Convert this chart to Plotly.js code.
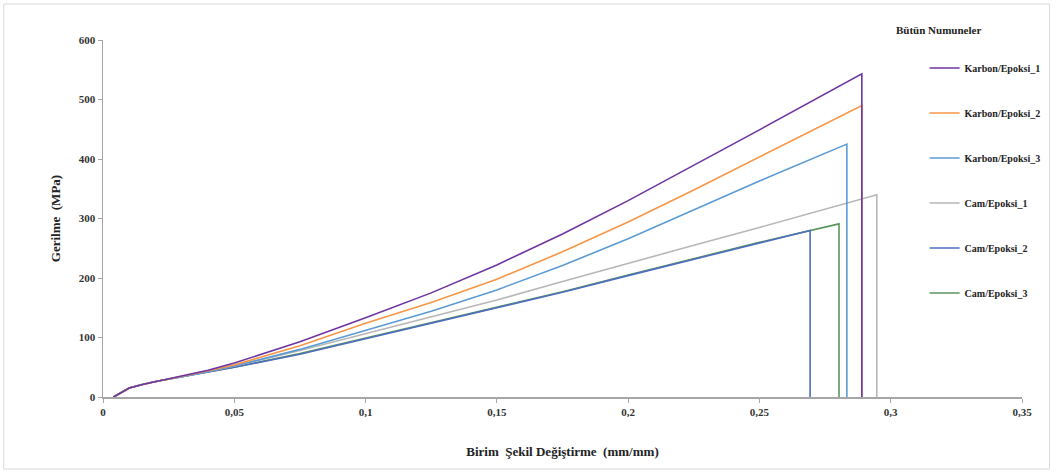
<!DOCTYPE html>
<html>
<head>
<meta charset="utf-8">
<script src="https://cdn.plot.ly/plotly-3.0.1.min.js"></script>
<style>html,body{margin:0;padding:0;background:#fff;}#chart{width:1058px;height:473px;}</style>
</head>
<body>
<div id="chart"></div>
<script>
// Strain (mm/mm) and stress (MPa)
const strainLow = [0.004, 0.007, 0.01, 0.015, 0.02, 0.03, 0.04, 0.05, 0.075, 0.1, 0.125, 0.15, 0.175, 0.2, 0.225, 0.25];

const karbon1Strain = strainLow.concat([0.289, 0.289]);
const karbon1Stress = [0, 8, 15, 21, 26, 35, 45, 57, 93, 133, 175, 222, 274, 330, 389, 449, 543, 0];

const karbon2Strain = strainLow.concat([0.289, 0.289]);
const karbon2Stress = [0, 8, 15, 21, 26, 35, 44, 54, 86, 124, 159, 198, 244, 294, 348, 403, 490, 0];

const karbon3Strain = strainLow.concat([0.2833, 0.2833]);
const karbon3Stress = [0, 8, 15, 21, 26, 34, 43, 52, 80, 112, 144, 180, 221, 266, 314, 363, 425, 0];

const cam1Strain = strainLow.concat([0.2947, 0.2947]);
const cam1Stress = [0, 8, 15, 21, 26, 34, 43, 52, 78, 106, 134, 163, 194, 225, 255, 285, 340, 0];

const cam2Strain = strainLow.concat([0.2693, 0.2693]);
const cam2Stress = [0, 8, 15, 21, 26, 34, 42, 50, 72, 98, 123, 149, 176, 204, 231, 258, 280, 0];

const cam3Strain = strainLow.concat([0.2803, 0.2803]);
const cam3Stress = [0, 8, 15, 21, 26, 34, 42, 50, 73, 99, 124, 150, 177, 205, 232, 260, 291, 0];

const seriesNames = ["Karbon/Epoksi_1", "Karbon/Epoksi_2", "Karbon/Epoksi_3", "Cam/Epoksi_1", "Cam/Epoksi_2", "Cam/Epoksi_3"];
const xTickVals = [0, 0.05, 0.1, 0.15, 0.2, 0.25, 0.3, 0.35];
const xTickText = ["0", "0,05", "0,1", "0,15", "0,2", "0,25", "0,3", "0,35"];
const yTickVals = [0, 100, 200, 300, 400, 500, 600];

const colors = ["#6E35A0", "#F79646", "#5B9BD5", "#B7B7B7", "#4F6FBD", "#5A955E"];
const xs = [karbon1Strain, karbon2Strain, karbon3Strain, cam1Strain, cam2Strain, cam3Strain];
const ys = [karbon1Stress, karbon2Stress, karbon3Stress, cam1Stress, cam2Stress, cam3Stress];

const serif = "Liberation Serif, Times New Roman, serif";
const traces = [];
for (let i = 0; i < 6; i++) {
  traces.push({
    x: xs[i], y: ys[i], type: "scatter", mode: "lines",
    name: seriesNames[i], legendgroup: "g" + i, legendrank: i + 1,
    line: {color: colors[i], width: 1.6}
  });
}
traces.reverse();

const layout = {
  width: 1058, height: 473,
  margin: {l: 103, r: 31, t: 40, b: 76},
  paper_bgcolor: "#ffffff", plot_bgcolor: "#ffffff",
  font: {family: serif, color: "#222", size: 11, weight: 700},
  showlegend: true,
  legend: {
    x: 0.894, xanchor: "left", y: 0.962, yanchor: "top",
    font: {family: serif, size: 10, color: "#222", weight: 700},
    tracegroupgap: 26, itemwidth: 30, bgcolor: "rgba(0,0,0,0)"
  },
  xaxis: {
    range: [0, 0.35], tickvals: xTickVals, ticktext: xTickText,
    showgrid: false, zeroline: false, showline: true, linecolor: "#A6A6A6", linewidth: 2,
    ticks: "outside", ticklen: 4, tickcolor: "#A6A6A6",
    tickfont: {family: serif, size: 11, color: "#333", weight: 700},
    title: {text: "Birim  Şekil Değiştirme  (mm/mm)", font: {family: serif, size: 13, color: "#222", weight: 700}, standoff: 30}
  },
  yaxis: {
    range: [0, 600], tickvals: yTickVals,
    showgrid: false, zeroline: false, showline: true, linecolor: "#A6A6A6", linewidth: 1.5,
    ticks: "outside", ticklen: 4, tickcolor: "#A6A6A6",
    tickfont: {family: serif, size: 11, color: "#333", weight: 700},
    title: {text: "Gerilme  (MPa)", font: {family: serif, size: 13, color: "#222", weight: 700}, standoff: 15}
  },
  annotations: [{
    text: "Bütün Numuneler", xref: "paper", yref: "paper",
    x: 0.861, y: 1.028, xanchor: "left", yanchor: "middle", showarrow: false,
    font: {family: serif, size: 11, color: "#222", weight: 700}
  }],
  shapes: [{
    type: "rect", xref: "paper", yref: "paper",
    x0: -0.108, x1: 1.030, y0: -0.2017, y1: 1.1008,
    line: {color: "#D9D9D9", width: 1}, layer: "below"
  }]
};

Plotly.newPlot("chart", traces, layout, {displayModeBar: false, staticPlot: true});
</script>
</body>
</html>
